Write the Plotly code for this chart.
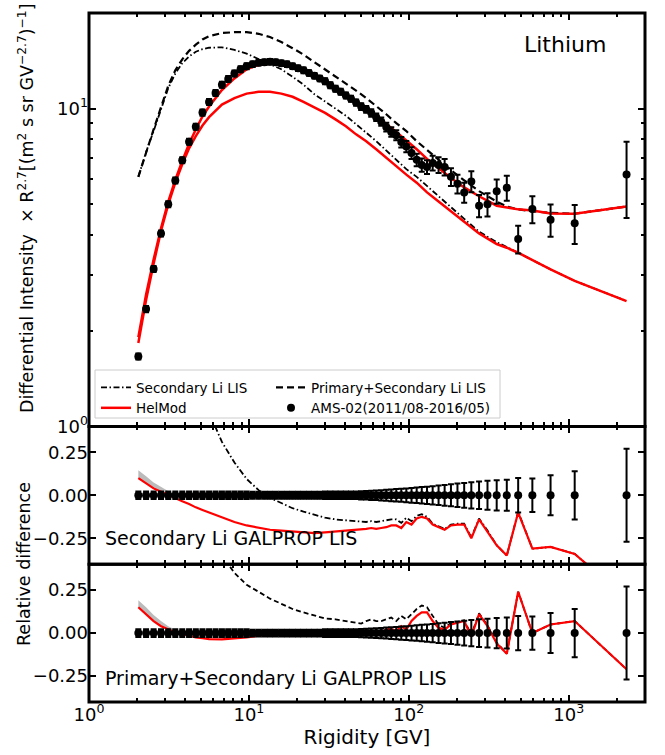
import plotly.graph_objects as go
from plotly.subplots import make_subplots

# ---------------- data (AMS-02 Li, flux x R^2.7) ----------------
R = [2.035, 2.275, 2.535, 2.82, 3.13, 3.465, 3.83, 4.225, 4.655, 5.125, 5.635, 6.185, 6.78, 7.425,
     8.12, 8.87, 9.68, 10.55, 11.5, 12.5, 13.55, 14.7, 15.95, 17.3, 18.75, 20.3, 21.95, 23.75,
     25.7, 27.75, 29.95, 32.3, 34.8, 37.5, 40.4, 43.5, 46.8, 50.35, 54.15, 58.2, 62.55, 67.25,
     72.3, 77.7, 83.5, 89.75, 96.5, 104, 112, 120.5, 130, 141, 153.5, 167.5, 183.5, 201.5, 222,
     246, 275, 310.5, 354.5, 410, 483, 592.5, 770, 1090, 2300]
flux = [1.66, 2.34, 3.13, 4.05, 5.0, 5.94, 6.88, 7.87, 8.77, 9.72, 10.5, 11.2, 11.9, 12.4,
        12.9, 13.3, 13.6, 13.8, 13.95, 14.0, 14.05, 14.0, 13.9, 13.8, 13.6, 13.4, 13.2, 12.95,
        12.7, 12.45, 12.2, 11.85, 11.55, 11.3, 11.0, 10.75, 10.45, 10.15, 9.95, 9.7, 9.4, 9.1,
        8.75, 8.45, 8.25, 7.85, 7.6, 7.25, 6.9, 6.65, 6.55, 6.75, 6.65, 6.55, 6.1, 5.8, 5.45,
        5.9, 4.95, 5.0, 5.5, 5.64, 3.89, 4.83, 4.47, 4.36, 6.2]
rel_err = [0.022] * 17 + [0.02] * 13 + [0.022] * 7 + \
          [0.024, 0.025, 0.027, 0.028, 0.03, 0.032, 0.034, 0.036, 0.038, 0.04, 0.043, 0.045,
           0.048, 0.05, 0.053, 0.057, 0.06, 0.064, 0.068, 0.072, 0.076, 0.08, 0.084, 0.088,
           0.09, 0.1, 0.097, 0.116, 0.14, 0.27]

# ---------------- model curves (top panel) ----------------
R_model = [2.035, 2.275, 2.535, 2.82, 3.13, 3.465, 3.83, 4.225, 4.655, 5.125, 5.635, 6.78, 8.12,
           9.68, 11.5, 13.55, 15.95, 18.75, 21.95, 25.7, 29.95, 34.8, 40.4, 46.8, 54.15, 62.55,
           72.3, 83.5, 96.5, 112, 130, 153.5, 183.5, 222, 275, 354.5, 410, 483, 592.5, 770,
           1090, 2300]
sec_lis = [6.1, 7.3, 8.5, 10.0, 11.6, 12.9, 13.9, 14.6, 15.1, 15.4, 15.55, 15.6, 15.3, 14.9,
           14.3, 13.8, 13.3, 12.6, 11.9, 11.1, 10.5, 10.0, 9.5, 8.95, 8.4, 7.9, 7.4, 6.9, 6.45,
           6.1, 5.7, 5.3, 4.9, 4.5, 4.1, 3.8, 3.67, 3.52, 3.33, 3.12, 2.87, 2.48]
tot_lis = [6.1, 7.3, 8.6, 10.1, 11.8, 13.2, 14.3, 15.2, 15.9, 16.5, 16.9, 17.3, 17.4, 17.4,
           17.2, 16.8, 16.2, 15.5, 14.8, 14.0, 13.3, 12.6, 12.0, 11.4, 10.8, 10.2, 9.6, 9.0,
           8.5, 7.9, 7.4, 6.9, 6.4, 5.95, 5.5, 5.1, 4.92, 4.82, 4.75, 4.70, 4.67, 4.92]
helmod_sec = [1.83, 2.5, 3.25, 4.12, 5.0, 5.85, 6.68, 7.5, 8.2, 8.85, 9.4, 10.3, 10.8, 11.15,
              11.3, 11.3, 11.15, 10.9, 10.5, 10.1, 9.7, 9.25, 8.8, 8.3, 7.9, 7.45, 7.0, 6.6,
              6.2, 5.85, 5.45, 5.1, 4.75, 4.4, 4.05, 3.75, 3.65, 3.52, 3.33, 3.12, 2.87, 2.48]
helmod_tot = [1.91, 2.6, 3.35, 4.2, 5.1, 5.97, 6.85, 7.75, 8.6, 9.45, 10.15, 11.45, 12.45,
              13.3, 13.75, 13.95, 13.85, 13.55, 13.15, 12.7, 12.2, 11.65, 11.1, 10.55, 10.0,
              9.45, 8.95, 8.45, 7.95, 7.45, 6.95, 6.5, 6.05, 5.65, 5.3, 4.95, 4.9, 4.82, 4.78,
              4.68, 4.67, 4.92]

# ---------------- relative differences (lower panels) ----------------
R_rd = [2.035, 2.275, 2.535, 2.82, 3.13, 3.465, 3.83, 4.225, 4.655, 5.125, 5.635, 6.78, 8.12,
        9.68, 11.5, 13.55, 15.95, 18.75, 21.95, 25.7, 29.95, 34.8, 40.4, 46.8, 50.35, 54.15,
        58.2, 62.55, 67.25, 72.3, 77.7, 83.5, 89.75, 96.5, 104, 112, 120.5, 130, 141, 153.5,
        167.5, 183.5, 201.5, 222, 246, 275, 310.5, 354.5, 410, 483, 592.5, 770, 1090, 2300]
rd_sec_lis = [2.67, 2.12, 1.72, 1.47, 1.32, 1.17, 1.02, 0.86, 0.72, 0.59, 0.48, 0.31, 0.19,
              0.095, 0.03, -0.015, -0.045, -0.075, -0.095, -0.115, -0.13, -0.14, -0.145,
              -0.15, -0.15, -0.155, -0.15, -0.155, -0.15, -0.145, -0.14, -0.14, -0.16, -0.13,
              -0.15, -0.12, -0.11, -0.125, -0.165, -0.18, -0.195, -0.17, -0.165, -0.165,
              -0.245, -0.135, -0.205, -0.29, -0.35, -0.095, -0.31, -0.30, -0.34, -0.6]
rd_helmod_sec = [0.10, 0.07, 0.04, 0.02, 0.0, -0.02, -0.035, -0.05, -0.07, -0.085, -0.10,
                 -0.13, -0.155, -0.175, -0.19, -0.2, -0.205, -0.21, -0.215, -0.22, -0.215,
                 -0.21, -0.205, -0.2, -0.2, -0.195, -0.19, -0.195, -0.19, -0.185, -0.175,
                 -0.175, -0.19, -0.155, -0.17, -0.135, -0.125, -0.135, -0.17, -0.185, -0.2,
                 -0.175, -0.17, -0.17, -0.25, -0.14, -0.21, -0.29, -0.35, -0.10, -0.31, -0.30,
                 -0.34, -0.6]
rd_tot_lis = [2.67, 2.12, 1.75, 1.49, 1.36, 1.22, 1.08, 0.93, 0.81, 0.70, 0.61, 0.45, 0.35,
              0.28, 0.24, 0.20, 0.17, 0.14, 0.12, 0.10, 0.085, 0.08, 0.07, 0.06, 0.055, 0.07,
              0.08, 0.07, 0.07, 0.08, 0.09, 0.07, 0.1, 0.08, 0.11, 0.14, 0.16, 0.15, 0.1, 0.05,
              0.03, 0.06, 0.065, 0.075, -0.01, 0.115, 0.045, -0.055, -0.12, 0.24, 0.0, 0.05,
              0.07, -0.21]
rd_helmod_tot = [0.15, 0.11, 0.07, 0.04, 0.02, 0.005, -0.005, -0.015, -0.025, -0.03, -0.035,
                 -0.037, -0.033, -0.025, -0.015, -0.01, -0.005, -0.003, 0.0, 0.0, 0.0, 0.0,
                 0.0, 0.0, 0.0, 0.005, 0.01, 0.005, 0.005, 0.02, 0.025, 0.01, 0.04, 0.02, 0.07,
                 0.1, 0.12, 0.12, 0.07, 0.03, 0.02, 0.05, 0.06, 0.07, -0.02, 0.11, 0.04, -0.06,
                 -0.12, 0.24, 0.0, 0.05, 0.07, -0.21]

# HelMod uncertainty band (gray)
R_band = [2.035, 2.275, 2.535, 2.82, 3.13, 3.465, 3.83, 4.225]
band_mid_lo = [0.10, 0.07, 0.04, 0.02, 0.0, -0.02, -0.035, -0.05]
band_mid_hi = [0.145, 0.11, 0.075, 0.05, 0.025, 0.0, -0.03, -0.05]
band_bot_lo = [0.15, 0.11, 0.07, 0.04, 0.02, 0.005, -0.005, -0.015]
band_bot_hi = [0.19, 0.15, 0.105, 0.07, 0.04, 0.02, 0.0, -0.015]

x_tickvals = [1, 10, 100, 1000]
x_ticktext = ["10<sup>0</sup>", "10<sup>1</sup>", "10<sup>2</sup>", "10<sup>3</sup>"]
x_minor = [m * 10 ** e for e in range(0, 4) for m in range(2, 10) if m * 10 ** e < 3000]
y_tickvals = [1, 10]
y_ticktext = ["10<sup>0</sup>", "10<sup>1</sup>"]
y_minor = [2, 3, 4, 5, 6, 7, 8, 9, 20]
rd_tickvals = [-0.25, 0.0, 0.25]
rd_ticktext = ["\u22120.25", "0.00", "0.25"]

FONT = "DejaVu Sans"
RED = "#ff0000"
DASHDOT = "6px,2.5px,1.5px,2.5px"

ML, MR, MT, MB = 89, 20, 13, 53
PW, PH = 665 - ML - MR, 755 - MT - MB


def px(xp):
    return (xp - ML) / PW


def py(yp):
    return (755 - MB - yp) / PH


fig = make_subplots(rows=3, cols=1, shared_xaxes=True, vertical_spacing=0,
                    row_heights=[0.6, 0.2, 0.2])

# ---- top panel ----
fig.add_trace(go.Scatter(x=R_model, y=sec_lis, mode="lines", name="Secondary Li LIS",
                         line=dict(color="black", width=1.8, dash=DASHDOT),
                         legend="legend"), 1, 1)
fig.add_trace(go.Scatter(x=R_model, y=tot_lis, mode="lines", name="Primary+Secondary Li LIS",
                         line=dict(color="black", width=2.2, dash="7px,4px"),
                         legend="legend2"), 1, 1)
fig.add_trace(go.Scatter(x=R_model, y=helmod_sec, mode="lines", name="HelMod",
                         line=dict(color=RED, width=2.5), legend="legend"), 1, 1)
fig.add_trace(go.Scatter(x=R_model, y=helmod_tot, mode="lines", name="HelMod",
                         line=dict(color=RED, width=2.5), showlegend=False), 1, 1)
abs_err = [f * e for f, e in zip(flux, rel_err)]
fig.add_trace(go.Scatter(x=R, y=flux, mode="markers", name="AMS-02(2011/08-2016/05)",
                         marker=dict(color="black", size=8),
                         error_y=dict(type="data", array=abs_err, color="black",
                                      thickness=2, width=3),
                         legend="legend2"), 1, 1)

# ---- middle panel ----
fig.add_trace(go.Scatter(x=R_band + R_band[::-1], y=band_mid_lo + band_mid_hi[::-1],
                         fill="toself", fillcolor="rgba(170,170,170,0.8)", mode="lines",
                         line=dict(width=0), showlegend=False, hoverinfo="skip"), 2, 1)
fig.add_trace(go.Scatter(x=R_rd, y=rd_sec_lis, mode="lines", showlegend=False,
                         line=dict(color="black", width=1.8, dash=DASHDOT)), 2, 1)
fig.add_trace(go.Scatter(x=R_rd, y=rd_helmod_sec, mode="lines", showlegend=False,
                         line=dict(color=RED, width=2.2)), 2, 1)
fig.add_trace(go.Scatter(x=R, y=[0.0] * len(R), mode="markers", showlegend=False,
                         marker=dict(color="black", size=8),
                         error_y=dict(type="data", array=rel_err, color="black",
                                      thickness=2, width=3)), 2, 1)

# ---- bottom panel ----
fig.add_trace(go.Scatter(x=R_band + R_band[::-1], y=band_bot_lo + band_bot_hi[::-1],
                         fill="toself", fillcolor="rgba(170,170,170,0.8)", mode="lines",
                         line=dict(width=0), showlegend=False, hoverinfo="skip"), 3, 1)
fig.add_trace(go.Scatter(x=R_rd, y=rd_tot_lis, mode="lines", showlegend=False,
                         line=dict(color="black", width=1.8, dash="5px,3px")), 3, 1)
fig.add_trace(go.Scatter(x=R_rd, y=rd_helmod_tot, mode="lines", showlegend=False,
                         line=dict(color=RED, width=2.2)), 3, 1)
fig.add_trace(go.Scatter(x=R, y=[0.0] * len(R), mode="markers", showlegend=False,
                         marker=dict(color="black", size=8),
                         error_y=dict(type="data", array=rel_err, color="black",
                                      thickness=2, width=3)), 3, 1)

axis_common = dict(showline=False, mirror="allticks",
                   ticks="inside", ticklen=7, tickwidth=2, tickcolor="black",
                   showgrid=False, zeroline=False,
                   tickfont=dict(family=FONT, size=18, color="black"))

for r in (1, 2, 3):
    fig.update_xaxes(type="log", range=[0, 3.4771], tickvals=x_tickvals,
                     ticktext=x_ticktext,
                     minor=dict(ticks="inside", ticklen=4, tickwidth=1.5, tickcolor="black",
                                tickvals=x_minor, showgrid=False),
                     row=r, col=1, **axis_common)
fig.update_xaxes(title=dict(text="Rigidity [GV]", font=dict(family=FONT, size=20, color="black"),
                            standoff=4), row=3, col=1)

fig.update_yaxes(type="log", range=[0, 1.30103], tickvals=y_tickvals, ticktext=y_ticktext,
                 minor=dict(ticks="inside", ticklen=4, tickwidth=1.5, tickcolor="black",
                            tickvals=y_minor, showgrid=False),
                 row=1, col=1, **axis_common)
for r in (2, 3):
    fig.update_yaxes(range=[-0.4, 0.4], tickvals=rd_tickvals, ticktext=rd_ticktext,
                     row=r, col=1, **axis_common)

# panel frames
for xr, yr in (("x", "y"), ("x2", "y2"), ("x3", "y3")):
    fig.add_shape(type="rect", xref=xr + " domain", yref=yr + " domain",
                  x0=0, x1=1, y0=0, y1=1, line=dict(color="black", width=3),
                  fillcolor="rgba(0,0,0,0)", layer="above")

# legend box
fig.add_shape(type="rect", xref="paper", yref="paper",
              x0=px(95), x1=px(500), y0=py(418), y1=py(370),
              fillcolor="rgba(255,255,255,0.85)", line=dict(color="#cccccc", width=1),
              layer="above")

legend_common = dict(bgcolor="rgba(0,0,0,0)", borderwidth=0,
                     font=dict(family=FONT, size=13.5, color="black"),
                     orientation="v", yanchor="top", xanchor="left",
                     tracegroupgap=0, itemwidth=30)

fig.update_layout(
    width=665, height=755,
    margin=dict(l=ML, r=MR, t=MT, b=MB),
    plot_bgcolor="white", paper_bgcolor="white",
    font=dict(family=FONT, color="black"),
    legend=dict(x=px(96), y=py(372), **legend_common),
    legend2=dict(x=px(271), y=py(372), **legend_common),
    annotations=[
        dict(text="Lithium", xref="paper", yref="paper", x=px(565), y=py(44),
             xanchor="center", yanchor="middle",
             showarrow=False, font=dict(family=FONT, size=22, color="black")),
        dict(text="Secondary Li GALPROP LIS", xref="paper", yref="paper", x=px(103),
             y=py(538), xanchor="left", yanchor="middle", showarrow=False,
             font=dict(family=FONT, size=19, color="black")),
        dict(text="Primary+Secondary Li GALPROP LIS", xref="paper", yref="paper", x=px(103),
             y=py(678), xanchor="left", yanchor="middle", showarrow=False,
             font=dict(family=FONT, size=19, color="black")),
        dict(text="Differential Intensity  \u00d7 R<sup>2.7</sup>[(m<sup>2</sup> s sr GV<sup>\u22122.7</sup>)<sup>\u22121</sup>]",
             xref="paper", yref="paper", x=px(26), y=py(208), textangle=-90,
             xanchor="center", yanchor="middle", showarrow=False,
             font=dict(family=FONT, size=17.5, color="black")),
        dict(text="Relative difference", xref="paper", yref="paper", x=px(24), y=py(564),
             textangle=-90, xanchor="center", yanchor="middle", showarrow=False,
             font=dict(family=FONT, size=17.5, color="black")),
    ],
)

fig.write_html("out.html")
